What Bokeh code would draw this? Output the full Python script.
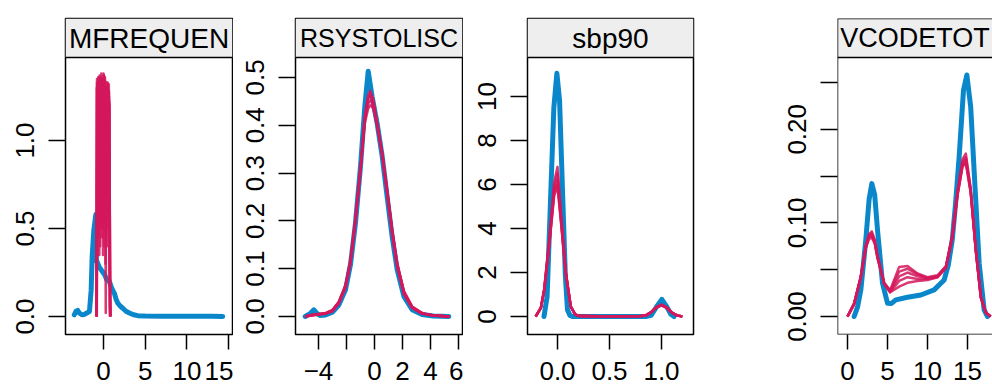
from bokeh.plotting import figure
from bokeh.layouts import row
from bokeh.models import FixedTicker, Range1d, BoxAnnotation, Span, NumeralTickFormatter
from bokeh.core.properties import value
from bokeh.embed import file_html
from bokeh.resources import INLINE

# ---------------- data ----------------
panel_names = ["MFREQUEN", "RSYSTOLISC", "sbp90", "VCODETOT"]

# Panel 1
ademf_obs_x = [-3.5, -3.3, -3.1, -2.9, -2.6, -2.3, -2.0, -1.8, -1.68, -1.48, -1.36, -1.16, -0.92,
               -0.85, -0.5, -0.2, 0.1, 0.4, 0.7, 0.92, 1.1, 1.32, 1.5, 1.72, 2.0, 2.32, 2.7, 3.1,
               3.6, 4.1, 5.0, 7.0, 9.0, 11.0, 13.0, 14.3]
ademf_obs_y = [0.01, 0.03, 0.035, 0.02, 0.01, 0.012, 0.02, 0.025, 0.03, 0.15, 0.34, 0.49, 0.58,
               0.32, 0.28, 0.26, 0.24, 0.21, 0.2, 0.17, 0.15, 0.13, 0.1, 0.076, 0.06, 0.047, 0.03, 0.02,
               0.01, 0.005, 0.003, 0.002, 0.001, 0.001, 0.001, 0.0]
ademf_imp_x = [
    [-0.85, -0.80, -0.72, -0.64, -0.56, -0.48, -0.40, -0.32, -0.24, -0.16, -0.08, 0.00, 0.08, 0.16, 0.24, 0.32, 0.40, 0.48, 0.56, 0.64, 0.72, 0.78],
    [-0.83, -0.77, -0.69, -0.61, -0.53, -0.45, -0.37, -0.29, -0.21, -0.13, -0.05, 0.03, 0.11, 0.19, 0.27, 0.35, 0.43, 0.51, 0.59, 0.67, 0.75, 0.82],
    [-0.81, -0.75, -0.66, -0.58, -0.50, -0.42, -0.34, -0.26, -0.18, -0.10, -0.02, 0.06, 0.14, 0.22, 0.30, 0.38, 0.46, 0.54, 0.62, 0.70, 0.78, 0.85],
    [-0.84, -0.78, -0.70, -0.62, -0.54, -0.46, -0.38, -0.30, -0.22, -0.14, -0.06, 0.02, 0.10, 0.18, 0.26, 0.34, 0.42, 0.50, 0.58, 0.66, 0.74, 0.80],
    [-0.80, -0.73, -0.65, -0.57, -0.49, -0.41, -0.33, -0.25, -0.17, -0.09, -0.01, 0.07, 0.15, 0.23, 0.31, 0.39, 0.47, 0.55, 0.63, 0.71, 0.79, 0.84],
]
ademf_imp_y = [
    [0.0, 1.30, 0.55, 1.33, 0.70, 1.28, 0.40, 1.36, 0.85, 1.31, 0.50, 1.38, 0.75, 1.29, 0.30, 1.30, 0.90, 1.26, 0.60, 1.32, 0.35, 0.0],
    [0.0, 1.33, 0.80, 1.36, 0.45, 1.27, 0.95, 1.35, 0.60, 1.30, 1.00, 1.37, 0.40, 1.34, 0.02, 1.28, 0.72, 1.31, 0.85, 1.25, 0.72, 0.0],
    [0.0, 1.28, 0.90, 1.34, 0.35, 1.30, 0.80, 1.38, 0.55, 1.26, 0.95, 1.33, 0.65, 1.31, 0.45, 1.27, 1.00, 1.30, 0.50, 1.22, 0.30, 0.0],
    [0.0, 1.35, 0.60, 1.29, 1.00, 1.37, 0.50, 1.31, 0.90, 1.34, 0.35, 1.24, 0.85, 1.36, 0.60, 1.30, 0.40, 1.33, 1.05, 1.28, 0.05, 0.0],
    [0.0, 1.31, 0.75, 1.36, 0.55, 1.26, 1.05, 1.33, 0.45, 1.29, 0.80, 1.37, 0.55, 1.28, 0.95, 1.33, 0.60, 1.27, 0.70, 1.20, 0.10, 0.0],
]

# Panel 2
rrsys_obs_x = [-4.95, -4.6, -4.33, -4.1, -3.9, -3.5, -3.0, -2.55, -2.07, -1.71, -1.36, -1.0, -0.69,
               -0.45, -0.17, 0.19, 0.55, 0.9, 1.26, 1.62, 2.1, 2.69, 3.4, 4.2, 5.31]
rrsys_obs_y = [0.0, 0.006, 0.014, 0.006, 0.002, 0.003, 0.009, 0.024, 0.056, 0.11, 0.195, 0.314, 0.44,
               0.513, 0.46, 0.404, 0.335, 0.251, 0.167, 0.098, 0.042, 0.014, 0.004, 0.001, 0.0]
rrsys_imp_x = [-4.95, -4.5, -4.0, -3.5, -3.0, -2.55, -2.07, -1.71, -1.36, -1.0, -0.69, -0.45, -0.3,
               -0.1, 0.19, 0.55, 0.9, 1.26, 1.62, 2.1, 2.69, 3.4, 4.2, 5.35]
rrsys_imp_y = [
    [0.0, 0.003, 0.004, 0.006, 0.012, 0.028, 0.062, 0.115, 0.20, 0.31, 0.42, 0.462, 0.472, 0.455, 0.405, 0.34, 0.26, 0.175, 0.105, 0.048, 0.018, 0.006, 0.002, 0.0],
    [0.0, 0.003, 0.005, 0.007, 0.013, 0.030, 0.065, 0.118, 0.205, 0.312, 0.415, 0.455, 0.463, 0.450, 0.402, 0.338, 0.262, 0.178, 0.108, 0.050, 0.019, 0.006, 0.002, 0.0],
    [0.0, 0.002, 0.004, 0.006, 0.011, 0.027, 0.060, 0.112, 0.198, 0.305, 0.41, 0.445, 0.452, 0.443, 0.400, 0.342, 0.265, 0.180, 0.110, 0.052, 0.020, 0.007, 0.002, 0.0],
    [0.0, 0.003, 0.005, 0.007, 0.014, 0.031, 0.066, 0.120, 0.207, 0.310, 0.405, 0.435, 0.442, 0.436, 0.398, 0.340, 0.266, 0.182, 0.112, 0.053, 0.021, 0.007, 0.002, 0.0],
    [0.0, 0.002, 0.004, 0.006, 0.012, 0.029, 0.063, 0.116, 0.202, 0.308, 0.418, 0.458, 0.466, 0.452, 0.404, 0.337, 0.259, 0.174, 0.104, 0.047, 0.018, 0.006, 0.002, 0.0],
]

# Panel 3: sbp90
sbp90_obs_x = [-0.13, -0.1, -0.064, -0.035, -0.006, 0.02, 0.048, 0.075, 0.096, 0.12, 0.144, 0.3,
               0.5, 0.7, 0.85, 0.9, 0.95, 1.003, 1.05, 1.09, 1.12]
sbp90_obs_y = [0.0, 0.9, 5.7, 9.5, 11.05, 9.8, 5.74, 1.9, 0.3, 0.05, 0.0, 0.0,
               0.0, 0.0, 0.0, 0.05, 0.42, 0.78, 0.45, 0.1, 0.0]
sbp90_imp_x = [-0.21, -0.16, -0.128, -0.08, -0.032, 0.0, 0.032, 0.08, 0.128, 0.17, 0.21, 0.4,
               0.6, 0.8, 0.85, 0.9, 0.95, 1.0, 1.05, 1.1, 1.15, 1.2]
sbp90_imp_y = [
    [0.0, 0.4, 1.25, 3.5, 6.1, 6.8, 4.8, 2.0, 0.45, 0.1, 0.02, 0.01, 0.01, 0.02, 0.05, 0.2, 0.42, 0.53, 0.4, 0.18, 0.05, 0.0],
    [0.0, 0.4, 1.22, 3.4, 5.9, 6.5, 4.65, 1.98, 0.45, 0.1, 0.02, 0.01, 0.01, 0.02, 0.05, 0.2, 0.41, 0.52, 0.4, 0.18, 0.05, 0.0],
    [0.0, 0.4, 1.2, 3.3, 5.73, 6.2, 4.5, 1.96, 0.45, 0.1, 0.02, 0.01, 0.01, 0.02, 0.05, 0.2, 0.42, 0.53, 0.41, 0.18, 0.05, 0.0],
    [0.0, 0.38, 1.18, 3.25, 5.6, 6.0, 4.4, 1.94, 0.44, 0.1, 0.02, 0.01, 0.01, 0.02, 0.05, 0.19, 0.40, 0.50, 0.39, 0.17, 0.05, 0.0],
    [0.0, 0.38, 1.16, 3.2, 5.5, 5.9, 4.35, 1.92, 0.44, 0.1, 0.02, 0.01, 0.01, 0.02, 0.05, 0.2, 0.42, 0.54, 0.41, 0.18, 0.05, 0.0],
]

# Panel 4
emv_obs_x = [0.83, 1.25, 1.67, 2.29, 2.7, 3.04, 3.4, 3.75, 4.375, 5.0, 5.5, 6.04, 7.5, 9.17, 10.83,
             12.08, 12.6, 13.1, 13.5, 13.96, 14.5, 14.92, 15.4, 15.96, 16.46, 17.08, 17.5]
emv_obs_y = [0.0, 0.01, 0.0285, 0.082, 0.125, 0.142, 0.13, 0.0926, 0.0356, 0.0142, 0.014, 0.0178,
             0.0206, 0.023, 0.0285, 0.039, 0.055, 0.082, 0.12, 0.171, 0.242, 0.258, 0.224, 0.135,
             0.057, 0.007, 0.0]
emv_imp_x = [0.0, 0.83, 1.67, 2.29, 2.7, 3.04, 3.4, 3.75, 4.58, 5.33, 6.46, 7.5, 8.75, 10.0, 11.25,
             12.3, 13.1, 13.75, 14.375, 14.79, 15.4, 16.04, 16.67, 17.3, 17.9]
emv_imp_y = [
    [0.0, 0.014, 0.043, 0.076, 0.088, 0.091, 0.082, 0.065, 0.036, 0.028, 0.053, 0.054, 0.046, 0.042, 0.044, 0.054, 0.087, 0.134, 0.168, 0.174, 0.137, 0.072, 0.021, 0.004, 0.0],
    [0.0, 0.014, 0.043, 0.075, 0.087, 0.089, 0.081, 0.064, 0.035, 0.027, 0.048, 0.051, 0.045, 0.041, 0.043, 0.053, 0.086, 0.132, 0.165, 0.170, 0.135, 0.071, 0.021, 0.004, 0.0],
    [0.0, 0.013, 0.042, 0.074, 0.086, 0.087, 0.080, 0.064, 0.036, 0.027, 0.043, 0.047, 0.043, 0.041, 0.043, 0.053, 0.085, 0.131, 0.163, 0.168, 0.134, 0.071, 0.021, 0.004, 0.0],
    [0.0, 0.014, 0.043, 0.074, 0.085, 0.086, 0.079, 0.063, 0.035, 0.026, 0.038, 0.042, 0.040, 0.040, 0.042, 0.052, 0.084, 0.130, 0.161, 0.165, 0.133, 0.070, 0.020, 0.004, 0.0],
    [0.0, 0.013, 0.042, 0.073, 0.083, 0.084, 0.078, 0.062, 0.035, 0.026, 0.032, 0.036, 0.038, 0.039, 0.042, 0.052, 0.084, 0.129, 0.160, 0.164, 0.132, 0.070, 0.020, 0.004, 0.0],
]

# axis ticks
p1_xticks = [0, 5, 10, 15]
p1_yticks = [0.0, 0.5, 1.0]
p2_xticks = [-4, 0, 2, 4, 6]
p2_xminor = [-2]
p2_yticks = [0.0, 0.1, 0.2, 0.3, 0.4, 0.5]
p3_xticks = [0.0, 0.5, 1.0]
p3_yticks = [0, 2, 4, 6, 8, 10]
p4_xticks = [0, 5, 10, 15]
p4_yticks = [0.0, 0.1, 0.2]
p4_yminor = [0.05, 0.15, 0.25]

# ---------------- style / layout ----------------
BLUE = "#0a87cb"
RED = "#d3175c"
FONT = "Liberation Sans"
STRIP_FILL = "#eeeeee"
FIG_H = 385
BORDER_TOP = 18
FRAME_H = 316
STRIP_H = 39
TICK_FONT = "26px"


def make_panel(name, strip_font, obs_x, obs_y, imp_x_list, imp_y_list, xr, yr, xticks, xminor, xfmt,
               yticks, yminor, yfmt, width, bl, br, outline=True, xoverrides=None):
    y_lo, y_hi = yr
    y_end = y_lo + (y_hi - y_lo) * FRAME_H / (FRAME_H - STRIP_H)
    p = figure(width=width, height=FIG_H, output_backend="svg", toolbar_location=None,
               x_range=Range1d(*xr), y_range=Range1d(y_lo, y_end),
               min_border_left=bl, min_border_right=br, min_border_top=BORDER_TOP,
               min_border_bottom=FIG_H - BORDER_TOP - FRAME_H)
    p.grid.visible = False
    p.background_fill_color = "white"
    p.border_fill_color = "white"
    if outline:
        p.outline_line_color = "black"
        p.outline_line_width = 1.5
    else:
        p.outline_line_color = None
        p.add_layout(Span(location=xr[0], dimension="height", line_color="black", line_width=1.5))
        p.add_layout(Span(location=y_end, dimension="width", line_color="black", line_width=1.5))
        p.add_layout(Span(location=y_lo, dimension="width", line_color="black", line_width=1.5))

    # strip
    p.add_layout(BoxAnnotation(bottom=y_hi, fill_color=STRIP_FILL, fill_alpha=1.0,
                               line_color=None, level="underlay"))
    p.add_layout(Span(location=y_hi, dimension="width", line_color="black", line_width=1.5))
    p.text(x=[(xr[0] + xr[1]) / 2], y=[(y_hi + y_end) / 2], text=[name], text_align="center",
           text_baseline="middle", text_font=value(FONT), text_font_size=strip_font,
           text_color="black")

    # densities
    p.line(obs_x, obs_y, line_color=BLUE, line_width=5, line_join="round", line_cap="round")
    for ix, iy in zip(imp_x_list, imp_y_list):
        p.line(ix, iy, line_color=RED, line_width=2.5, line_alpha=0.85, line_join="round")

    # axes
    for ax, ticks, minor, fmt in ((p.xaxis, xticks, xminor, xfmt), (p.yaxis, yticks, yminor, yfmt)):
        ax.ticker = FixedTicker(ticks=ticks, minor_ticks=minor)
        ax.formatter = NumeralTickFormatter(format=fmt)
        ax.axis_line_color = None
        ax.major_tick_in = 0
        ax.minor_tick_in = 0
        ax.major_tick_line_color = "black"
        ax.minor_tick_line_color = "black"
        ax.major_tick_line_width = 1.5
        ax.minor_tick_line_width = 1.5
        ax.major_label_text_font = FONT
        ax.major_label_text_font_size = TICK_FONT
        ax.major_label_text_color = "black"
    p.xaxis.major_tick_out = 15
    p.xaxis.minor_tick_out = 15
    p.xaxis.major_label_standoff = 12
    p.yaxis.major_tick_out = 17
    p.yaxis.minor_tick_out = 17
    p.yaxis.major_label_standoff = 14
    p.yaxis.major_label_orientation = "vertical"
    if xoverrides:
        p.xaxis.major_label_overrides = xoverrides
    return p


p1 = make_panel(panel_names[0], "28px", ademf_obs_x, ademf_obs_y, ademf_imp_x, ademf_imp_y,
                (-4.556, 15.47), (-0.102, 1.4716), p1_xticks, [], "0", p1_yticks, [], "0.0",
                width=233, bl=65, br=1)
p2 = make_panel(panel_names[1], "25px", rrsys_obs_x, rrsys_obs_y, [rrsys_imp_x] * 5, rrsys_imp_y,
                (-5.643, 6.286), (-0.0377, 0.5418), p2_xticks, p2_xminor, "0", p2_yticks, [], "0.0",
                width=230, bl=62, br=1, xoverrides={-4: "\u22124"})
p3 = make_panel(panel_names[2], "28px", sbp90_obs_x, sbp90_obs_y, [sbp90_imp_x] * 5, sbp90_imp_y,
                (-0.2885, 1.3077), (-0.818, 11.77), p3_xticks, [], "0.0", p3_yticks, [], "0",
                width=235, bl=64, br=5)
p4 = make_panel(panel_names[3], "27px", emv_obs_x, emv_obs_y, [emv_imp_x] * 5, emv_imp_y,
                (-1.25, 18.125), (-0.0192, 0.2767), p4_xticks, [], "0", p4_yticks, p4_yminor, "0.00",
                width=294, bl=139, br=0, outline=False)

layout = row(p1, p2, p3, p4, spacing=0)
open("out.html", "w").write(file_html(layout, INLINE))
